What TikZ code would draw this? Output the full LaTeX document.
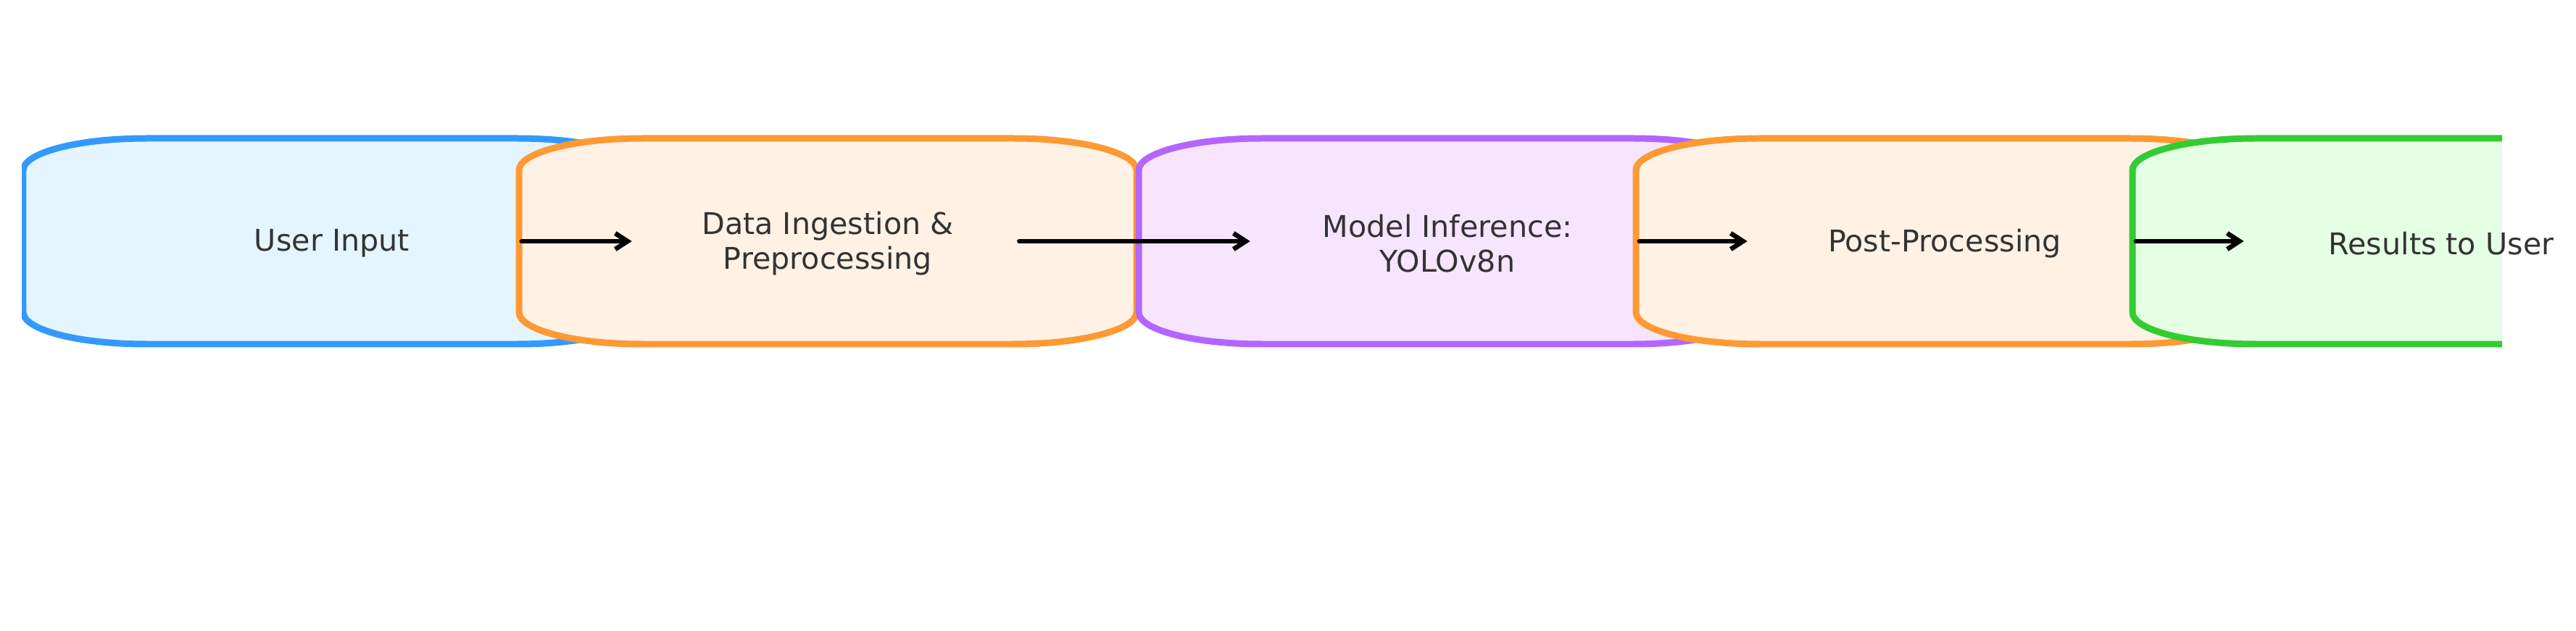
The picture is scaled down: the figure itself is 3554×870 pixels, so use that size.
\documentclass[tikz,border=0pt]{standalone}
\usepackage{fontspec}
\setmainfont{DejaVu Sans}
\usetikzlibrary{arrows.meta,calc}
\definecolor{bstroke}{HTML}{3399FF}\definecolor{bfill}{HTML}{E5F5FF}
\definecolor{ostroke}{HTML}{FF9933}\definecolor{ofill}{HTML}{FFF2E5}
\definecolor{pstroke}{HTML}{B266FF}\definecolor{pfill}{HTML}{F7E5FF}
\definecolor{gstroke}{HTML}{33CC33}\definecolor{gfill}{HTML}{E5FFE5}
\definecolor{txt}{HTML}{333333}
\newcommand\roundbox[3]{%
  \filldraw[draw=#2, fill=#3, line width=0.18cm, line join=round]
    ({#1-256},679) -- ({#1+256},679)
    arc[start angle=90, end angle=0, x radius=170, y radius=44]
    -- ({#1+426},439)
    arc[start angle=0, end angle=-90, x radius=170, y radius=44]
    -- ({#1-256},395)
    arc[start angle=270, end angle=180, x radius=170, y radius=44]
    -- ({#1-426},635)
    arc[start angle=180, end angle=90, x radius=170, y radius=44]
    -- cycle;}
\tikzset{
  boxtext/.style={shape=rectangle, minimum width=17.04cm, minimum height=5.68cm,
    inner sep=0pt, align=center, text=txt,
    font=\fontsize{23.5}{27.5}\selectfont},
  flow/.style={line width=0.13cm, line cap=round, line join=round,
    -{Straight Barb[length=0.34cm, width=0.44cm, line width=0.13cm]}}
}
\begin{document}
\begin{tikzpicture}[x=0.02cm, y=0.02cm]
\useasboundingbox (0,0) rectangle (3554,870);
\begin{scope}
  \clip (30,0) rectangle (3452,870);
  \roundbox{458}{bstroke}{bfill}
  \roundbox{1142}{ostroke}{ofill}
  \roundbox{1997}{pstroke}{pfill}
  \roundbox{2683}{ostroke}{ofill}
  \roundbox{3368}{gstroke}{gfill}
\end{scope}
\node[boxtext] (b1) at (458,534) {User Input};
\node[boxtext] (b2) at (1142,534) {Data Ingestion \&\\Preprocessing};
\node[boxtext] (b3) at (1997,534) {Model Inference:\\YOLOv8n};
\node[boxtext] (b4) at (2683,534) {Post-Processing};
\node[boxtext] (b5) at (3368,534) {Results to User};
\draw[flow] ($(b2.west)+(4,3)$) -- ($(b2.west)+(156,3)$);
\draw[flow] ($(b2.east)+(-162,3)$) -- ($(b3.west)+(154,3)$);
\draw[flow] ($(b4.west)+(5,3)$) -- ($(b4.west)+(154,3)$);
\draw[flow] ($(b5.west)+(5,3)$) -- ($(b5.west)+(154,3)$);
\end{tikzpicture}
\end{document}
